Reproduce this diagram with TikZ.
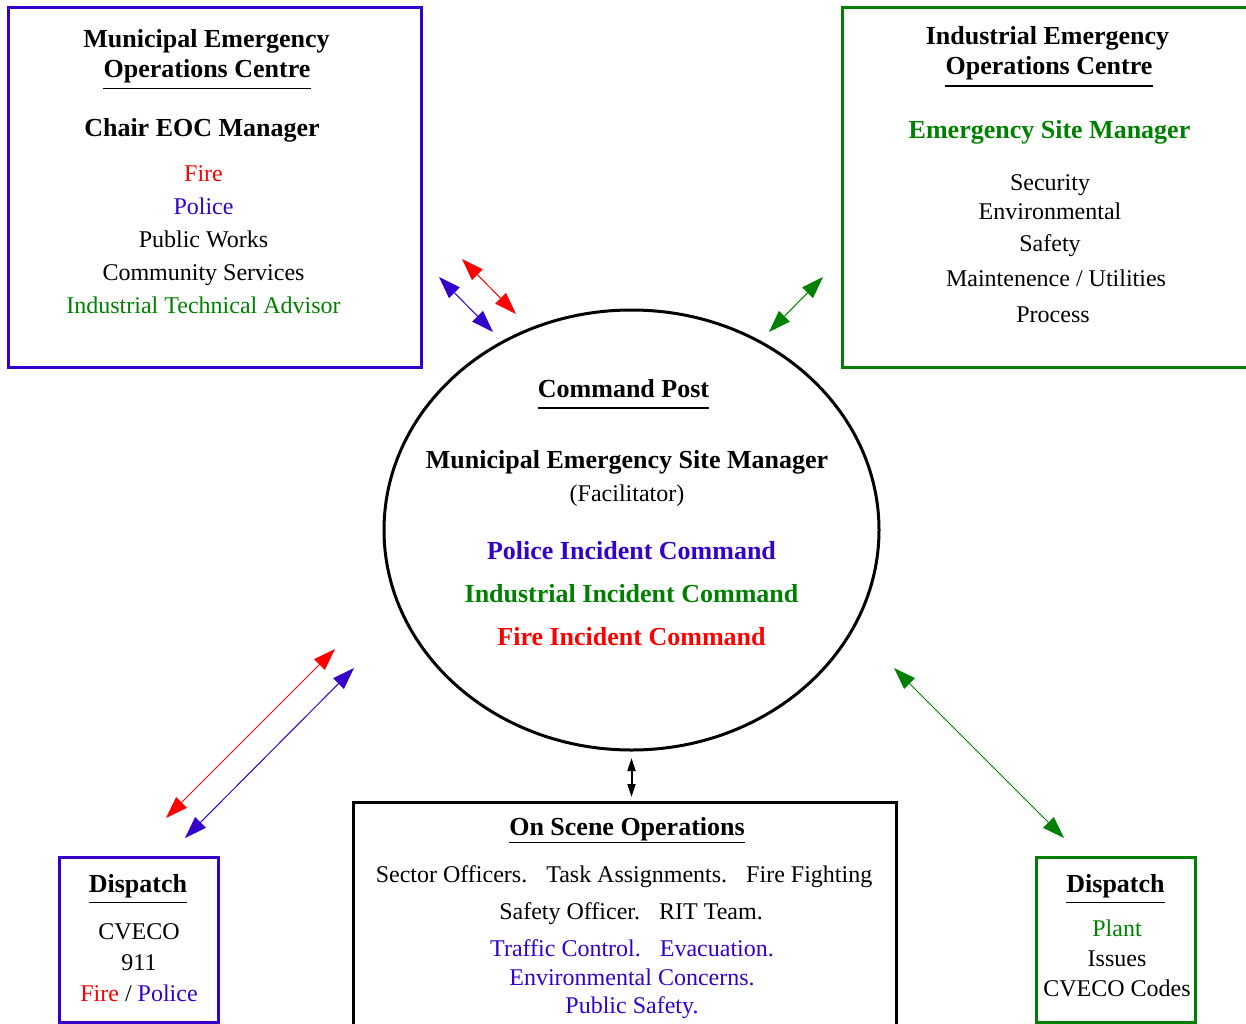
\documentclass[tikz,border=0pt]{standalone}
\usepackage{fontspec}
\setmainfont{Liberation Serif}
\usepackage{tikz}
\usetikzlibrary{arrows.meta,positioning,shapes.geometric}
\usepackage{xcolor}
\definecolor{Purple}{HTML}{3300CC}
\definecolor{Green}{HTML}{008000}
\definecolor{Red}{HTML}{FF0000}
\newcommand{\gap}{\hspace{19pt}}

\begin{document}
\begin{tikzpicture}[
    x=1pt, y=-1pt,
    panel/.style={draw, line width=3pt, inner sep=0pt},
    head/.style={anchor=base, inner sep=0pt, font=\fontsize{26}{30}\selectfont\bfseries},
    body/.style={inner sep=0pt, align=center, font=\fontsize{24}{33}\selectfont},
    uline/.style={line width=1.3pt},
    flow/.style={line width=1pt, {Triangle[length=22pt,width=15pt]}-{Triangle[length=22pt,width=15pt]}},
    node distance=0pt
  ]
  \useasboundingbox (0,0) rectangle (1246,1024);

  % frames
  \node[panel, draw=Purple, minimum width=413pt, minimum height=359pt] (meocbox) at (214.5,187.5) {};
  \node[panel, draw=Green, minimum width=412pt, minimum height=359pt] (ieocbox) at (1048,187.5) {};
  \node[panel, ellipse, minimum width=495pt, minimum height=440pt] (cp) at (631.5,530) {};
  \node[panel, minimum width=543pt, minimum height=240pt] (ops) at (624.5,922) {};
  \node[panel, draw=Purple, minimum width=159pt, minimum height=165pt] (displ) at (138.5,939.5) {};
  \node[panel, draw=Green, minimum width=159pt, minimum height=165pt] (dispr) at (1115.5,939.5) {};

  % municipal EOC
  \node[head] (meoc) at (206.5,48) {Municipal Emergency};
  \node[head] (meocsub) at (207,78) {Operations Centre};
  \draw[uline] ([yshift=-10.5pt]meocsub.base west) -- ([yshift=-10.5pt]meocsub.base east);
  \node[head] (chair) at (202,137) {Chair EOC Manager};
  \node[body] (meocstaff) at (203.5,239.7) {\textcolor{Red}{Fire}\\ \textcolor{Purple}{Police}\\ Public Works\\ Community Services\\ \textcolor{Green}{Industrial Technical Advisor}};

  % industrial EOC
  \node[head] (ieoc) at (1047.5,45) {Industrial Emergency};
  \node[head] (ieocsub) at (1049,75) {Operations Centre};
  \draw[uline] ([yshift=-11pt]ieocsub.base west) -- ([yshift=-11pt]ieocsub.base east);
  \node[head, text=Green] (esm) at (1049.5,138.3) {Emergency Site Manager};
  \node[body, font=\fontsize{24}{30}\selectfont] (ieocstaff) at (1050,248.5) {Security\\[-0.7pt] Environmental\\[1.7pt] Safety\\[5pt] \hspace{12pt}Maintenence / Utilities\\[6pt] \hspace{6pt}Process};

  % command post
  \node[head] (cptitle) at (623.5,397) {Command Post};
  \draw[uline] ([yshift=-11pt]cptitle.base west) -- ([yshift=-11pt]cptitle.base east);
  \node[body] (mesm) at (627,479) {{\bfseries\fontsize{26}{33}\selectfont Municipal Emergency Site Manager}\\ (Facilitator)};
  \node[body, font=\fontsize{26}{43}\selectfont\bfseries] (incidents) at (631.5,593.2) {\textcolor{Purple}{Police Incident Command}\\ \textcolor{Green}{Industrial Incident Command}\\ \textcolor{Red}{Fire Incident Command}};

  % on scene
  \node[head] (opstitle) at (627,835) {On Scene Operations};
  \draw[uline] ([yshift=-7.5pt]opstitle.base west) -- ([yshift=-7.5pt]opstitle.base east);
  \node[body, font=\fontsize{24}{36.6}\selectfont] (opscrew) at (624,895.4) {Sector Officers.\gap Task Assignments.\gap Fire Fighting\\ \hspace{14pt}Safety Officer.\gap RIT Team.};
  \node[body, font=\fontsize{24}{28.3}\selectfont, text=Purple] (opstraffic) at (632,979.4) {Traffic Control.\gap Evacuation.\\ Environmental Concerns.\\ Public Safety.};

  % dispatch
  \node[head] (displtitle) at (138,892.7) {Dispatch};
  \draw[uline] ([yshift=-10pt]displtitle.base west) -- ([yshift=-10pt]displtitle.base east);
  \node[body, font=\fontsize{24}{31}\selectfont] (displitems) at (139,963) {CVECO\\ 911\\ \textcolor{Red}{Fire} / \textcolor{Purple}{Police}};
  \node[head] (disprtitle) at (1115.5,892.7) {Dispatch};
  \draw[uline] ([yshift=-10pt]disprtitle.base west) -- ([yshift=-10pt]disprtitle.base east);
  \node[body, font=\fontsize{24}{30}\selectfont] (dispritems) at (1117,958.5) {\textcolor{Green}{Plant}\\ Issues\\ CVECO Codes};

  % links
  \coordinate (fireA) at (462,259);
  \coordinate (fireB) at (516,314);
  \coordinate (policeA) at (439,277);
  \coordinate (policeB) at (493,332);
  \coordinate (plantA) at (823,277);
  \coordinate (plantB) at (769,332);
  \coordinate (fireC) at (335,649);
  \coordinate (fireD) at (166,818);
  \coordinate (policeC) at (354,668);
  \coordinate (policeD) at (185,838);
  \coordinate (plantC) at (894,668);
  \coordinate (plantD) at (1064,838);
  \draw[flow, Red] (fireA) -- (fireB);
  \draw[flow, Purple] (policeA) -- (policeB);
  \draw[flow, Green] (plantA) -- (plantB);
  \draw[flow, Red] (fireC) -- (fireD);
  \draw[flow, Purple] (policeC) -- (policeD);
  \draw[flow, Green] (plantC) -- (plantD);
  \draw[line width=2pt, {Triangle[length=13pt,width=8pt]}-{Triangle[length=13pt,width=8pt]}] ([yshift=-6.5pt]cp.south) -- ([yshift=3.5pt]cp.south |- ops.north);
\end{tikzpicture}
\end{document}
